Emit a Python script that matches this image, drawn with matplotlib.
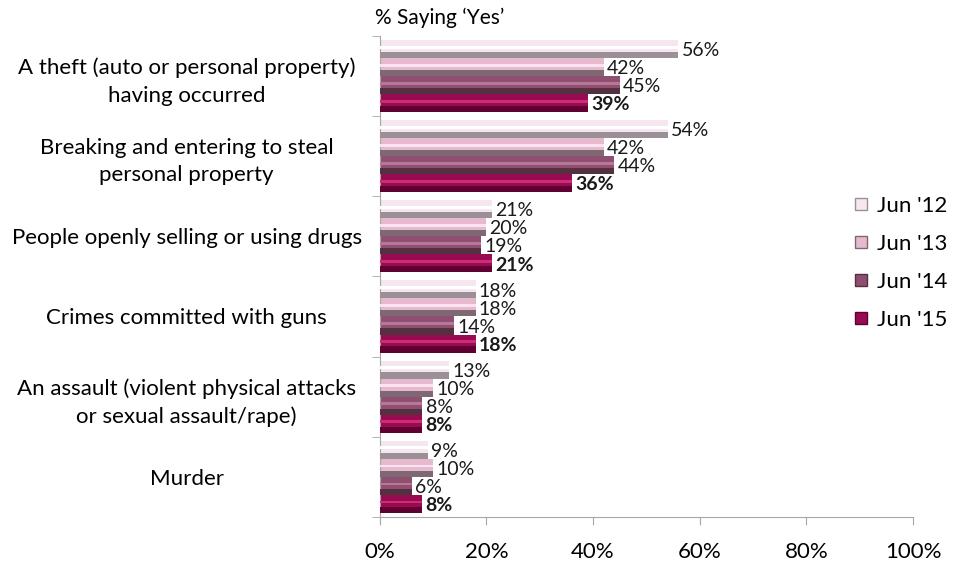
import numpy as np
import matplotlib.pyplot as plt
from matplotlib.lines import Line2D

plt.rcParams['font.family'] = ['Lato', 'DejaVu Sans']

categories = [
    "A theft (auto or personal property)\nhaving occurred",
    "Breaking and entering to steal\npersonal property",
    "People openly selling or using drugs",
    "Crimes committed with guns",
    "An assault (violent physical attacks\nor sexual assault/rape)",
    "Murder",
]
series = ["Jun '12", "Jun '13", "Jun '14", "Jun '15"]
jun12 = [56, 54, 21, 18, 13, 9]
jun13 = [42, 42, 20, 18, 10, 10]
jun14 = [45, 44, 19, 14, 8, 6]
jun15 = [39, 36, 21, 18, 8, 8]
values = [jun12, jun13, jun14, jun15]

faces = ['#f6e6ef', '#e6b9cf', '#8f4f70', '#980b52']
shades = ['#9a9095', '#7d6873', '#553041', '#600031']
lights = ['#ffffff', '#fbe4f0', '#b87797', '#cf2c78']

fig = plt.figure(figsize=(9.59, 5.63), dpi=100)
ax = fig.add_axes([0.396, 0.082, 0.556, 0.854])

n = len(categories)
y = np.arange(n)
h = 0.225
for i, vals in enumerate(values):
    pos = y - 1.5 * h + i * h
    ax.barh(pos, vals, height=h, color=faces[i], edgecolor='none', zorder=2)
    # bevel: darker lower edge, lighter upper stripe
    ax.barh(pos + h * 0.33, vals, height=h * 0.34, color=shades[i], edgecolor='none', zorder=3)
    ax.barh(pos - h * 0.1, vals, height=h * 0.16, color=lights[i], edgecolor='none', zorder=3)
    for p, v in zip(pos, vals):
        ax.text(v + 0.6, p + 0.02, f"{v}%", va='center', ha='left', fontsize=14,
                fontweight='bold' if i == 3 else 'normal', color='#1a1a1a', zorder=4)

ax.set_ylim(n - 0.5, -0.5)
ax.set_xlim(0, 100)
ax.set_xticks(np.arange(0, 101, 20))
ax.set_xticklabels([f"{t}%" for t in range(0, 101, 20)], fontsize=16)
ax.set_yticks(y)
ax.set_yticklabels(categories, fontsize=16, linespacing=1.45)
ax.set_yticks(np.arange(-0.5, n, 1), minor=True)
ax.tick_params(axis='y', which='major', length=0, pad=0)
ax.tick_params(axis='y', which='minor', length=6, color='#a6a6a6', direction='out')
ax.tick_params(axis='x', length=6, color='#a6a6a6', direction='out', pad=12)
for lbl in ax.get_yticklabels():
    lbl.set_horizontalalignment('center')
    lbl.set_x(-0.362)
for s in ['top', 'right']:
    ax.spines[s].set_visible(False)
for s in ['left', 'bottom']:
    ax.spines[s].set_color('#a6a6a6')

fig.text(0.458, 0.968, "% Saying \u2018Yes\u2019", ha='center', va='center', fontsize=15)

handles = [Line2D([], [], marker='s', linestyle='none', markersize=8,
                  markerfacecolor=faces[i], markeredgecolor=shades[i]) for i in range(4)]
fig.legend(handles, series, loc='center left', bbox_to_anchor=(0.868, 0.533),
           frameon=False, fontsize=16, handletextpad=0.3, labelspacing=0.8,
           handlelength=0.8)

fig.savefig('out.png', dpi=100)
